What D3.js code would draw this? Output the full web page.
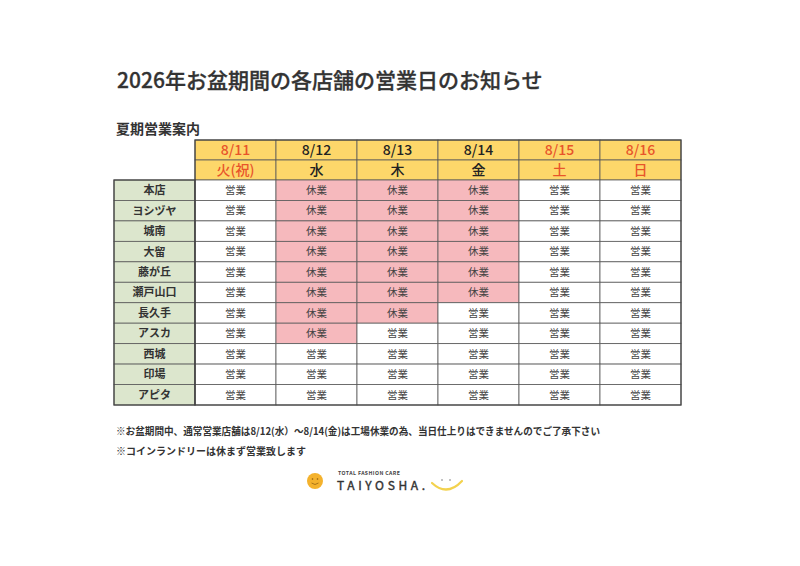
<!DOCTYPE html>
<html>
<head>
<meta charset="utf-8">
<script src="https://cdn.jsdelivr.net/npm/d3@7"></script>
<style>
  body { margin: 0; background: #fff; }
  text { font-family: "Noto Sans CJK JP", "Noto Sans", sans-serif; }
</style>
</head>
<body>
<div id="chart"></div>
<script>
// table content
const dates = ['8/11', '8/12', '8/13', '8/14', '8/15', '8/16'];
const weekdays = ['火(祝)', '水', '木', '金', '土', '日'];
const holidays = [true, false, false, false, true, true];
const stores = ['本店', 'ヨシヅヤ', '城南', '大留', '藤が丘', '瀬戸山口', '長久手', 'アスカ', '西城', '印場', 'アピタ'];
// 1 = 休業, 0 = 営業 (one row per store, one column per date)
const closed = [
  [0, 1, 1, 1, 0, 0],
  [0, 1, 1, 1, 0, 0],
  [0, 1, 1, 1, 0, 0],
  [0, 1, 1, 1, 0, 0],
  [0, 1, 1, 1, 0, 0],
  [0, 1, 1, 1, 0, 0],
  [0, 1, 1, 0, 0, 0],
  [0, 1, 0, 0, 0, 0],
  [0, 0, 0, 0, 0, 0],
  [0, 0, 0, 0, 0, 0],
  [0, 0, 0, 0, 0, 0],
];
const notes = [
  '※お盆期間中、通常営業店舗は8/12(水）～8/14(金)は工場休業の為、当日仕上りはできませんのでご了承下さい',
  '※コインランドリーは休まず営業致します',
];

const width = 800;
const height = 566;
const colors = {
  header: '#fdd76a',
  store: '#dce6cd',
  closed: '#f6b9bd',
  open: '#ffffff',
  red: '#e8542a',
  line: '#5a5a5a',
  text: '#333333',
};

const svg = d3.select('#chart')
  .append('svg')
  .attr('width', width)
  .attr('height', height);

// title and sub heading
svg.append('text')
  .attr('x', 117).attr('y', 88)
  .attr('font-size', 21).attr('font-weight', 500)
  .attr('fill', '#333').attr('stroke', '#333').attr('stroke-width', 0.3)
  .text('2026年お盆期間の各店舗の営業日のお知らせ');

svg.append('text')
  .attr('x', 116).attr('y', 134)
  .attr('font-size', 14).attr('font-weight', 700)
  .attr('fill', '#333')
  .text('夏期営業案内');

// scales: first column holds store names
const x = d3.scaleBand()
  .domain(['store', ...dates])
  .range([114, 681]);
const yHead = d3.scaleBand()
  .domain(['date', 'day'])
  .range([140, 180]);
const y = d3.scaleBand()
  .domain(stores)
  .range([180, 405]);

// header cells
const head = svg.append('g').attr('class', 'header');
dates.forEach((d, i) => {
  ['date', 'day'].forEach((k) => {
    head.append('rect')
      .attr('x', x(d)).attr('y', yHead(k))
      .attr('width', x.bandwidth()).attr('height', yHead.bandwidth())
      .attr('fill', colors.header)
      .attr('stroke', colors.line).attr('stroke-width', 0.8);
    head.append('text')
      .attr('x', x(d) + x.bandwidth() / 2)
      .attr('y', yHead(k) + yHead.bandwidth() / 2)
      .attr('dy', '0.36em')
      .attr('text-anchor', 'middle')
      .attr('font-size', 14).attr('font-weight', 500)
      .attr('fill', holidays[i] ? colors.red : '#222')
      .text(k === 'date' ? d : weekdays[i]);
  });
});

// body rows
const body = svg.append('g').attr('class', 'body');
stores.forEach((s, r) => {
  body.append('rect')
    .attr('x', x('store')).attr('y', y(s))
    .attr('width', x.bandwidth()).attr('height', y.bandwidth())
    .attr('fill', colors.store)
    .attr('stroke', colors.line).attr('stroke-width', 0.8);
  body.append('text')
    .attr('x', x('store') + x.bandwidth() / 2)
    .attr('y', y(s) + y.bandwidth() / 2)
    .attr('dy', '0.36em')
    .attr('text-anchor', 'middle')
    .attr('font-size', 11).attr('font-weight', 700)
    .attr('fill', colors.text)
    .text(s);

  dates.forEach((d, c) => {
    const isClosed = closed[r][c] === 1;
    body.append('rect')
      .attr('x', x(d)).attr('y', y(s))
      .attr('width', x.bandwidth()).attr('height', y.bandwidth())
      .attr('fill', isClosed ? colors.closed : colors.open)
      .attr('stroke', colors.line).attr('stroke-width', 0.8);
    body.append('text')
      .attr('x', x(d) + x.bandwidth() / 2)
      .attr('y', y(s) + y.bandwidth() / 2)
      .attr('dy', '0.36em')
      .attr('text-anchor', 'middle')
      .attr('font-size', 10.5)
      .attr('fill', '#444')
      .text(isClosed ? '休業' : '営業');
  });
});

// outer frames
svg.append('rect')
  .attr('x', x(dates[0])).attr('y', 140)
  .attr('width', x.range()[1] - x(dates[0])).attr('height', 405 - 140)
  .attr('fill', 'none').attr('stroke', '#444').attr('stroke-width', 1.2);
svg.append('rect')
  .attr('x', x('store')).attr('y', 180)
  .attr('width', x.bandwidth()).attr('height', 405 - 180)
  .attr('fill', 'none').attr('stroke', '#444').attr('stroke-width', 1.2);

// footnotes
svg.selectAll('text.note')
  .data(notes)
  .join('text')
  .attr('class', 'note')
  .attr('x', 116)
  .attr('y', (d, i) => 435 + i * 20)
  .attr('font-size', 10).attr('font-weight', 700)
  .attr('fill', '#333')
  .text((d) => d);
svg.select('text.note').attr('textLength', 484).attr('lengthAdjust', 'spacingAndGlyphs');

// logo
const logo = svg.append('g').attr('class', 'logo');
logo.append('circle')
  .attr('cx', 315).attr('cy', 481).attr('r', 8)
  .attr('fill', '#f4b22d');
logo.append('circle').attr('cx', 312.5).attr('cy', 479).attr('r', 0.8).attr('fill', '#8a5a10');
logo.append('circle').attr('cx', 317.5).attr('cy', 479).attr('r', 0.8).attr('fill', '#8a5a10');
logo.append('path')
  .attr('d', 'M311.5,483 Q315,486 318.5,483')
  .attr('fill', 'none').attr('stroke', '#8a5a10').attr('stroke-width', 0.7);
logo.append('text')
  .attr('x', 338).attr('y', 475)
  .attr('font-family', 'DejaVu Sans').attr('font-size', 5.2).attr('font-weight', 700)
  .attr('fill', '#444').attr('textLength', 62)
  .text('TOTAL FASHION CARE');
logo.append('text')
  .attr('x', 337).attr('y', 490)
  .attr('font-family', 'DejaVu Sans').attr('font-size', 12)
  .attr('fill', '#333').attr('stroke', '#333').attr('stroke-width', 0.4)
  .attr('textLength', 88)
  .text('TAIYOSHA.');
logo.append('path')
  .attr('d', 'M432,483 Q447,497 462,481')
  .attr('fill', 'none').attr('stroke', '#f3d24e').attr('stroke-width', 2.2)
  .attr('stroke-linecap', 'round');
logo.append('circle').attr('cx', 442).attr('cy', 480).attr('r', 0.8).attr('fill', '#777');
logo.append('circle').attr('cx', 450).attr('cy', 480).attr('r', 0.8).attr('fill', '#777');
</script>
</body>
</html>
